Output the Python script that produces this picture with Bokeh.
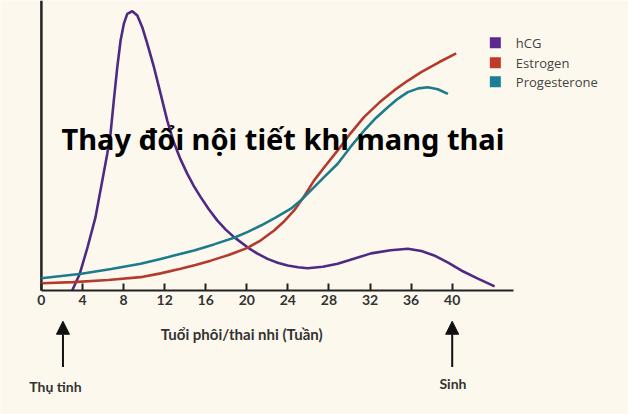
from bokeh.plotting import figure
from bokeh.models import FixedTicker, Arrow, NormalHead, ColumnDataSource
from bokeh.core.properties import value
from bokeh.embed import file_html
from bokeh.resources import INLINE

# ---- data ----
hcg_weeks = [3.0, 3.74, 4.5, 5.27, 6.41, 6.73, 7.05, 7.39, 7.71, 8.03, 8.36, 8.85, 9.34, 9.82,
             10.31, 10.96, 11.61, 12.26, 12.9, 13.55, 14.21, 14.86, 15.51, 16.3, 17.14, 17.95,
             18.76, 20.07, 21.0, 22.02, 23.0, 23.97, 25.0, 25.92, 27.4, 28.85, 30.5, 32.1,
             34.0, 35.68, 37.0, 38.24, 39.6, 40.88, 42.5, 44.13]
hcg = [0.0, 5.8, 15.0, 25.3, 47.1, 54.0, 65.5, 77.0, 86.2, 92.0, 95.4, 96.3, 94.8, 90.8,
       85.1, 77.0, 67.8, 58.5, 51.0, 45.2, 40.2, 35.9, 32.2, 28.0, 24.1, 21.0,
       18.4, 14.9, 12.8, 10.9, 9.6, 8.6, 8.0, 7.7, 8.2, 9.2, 11.0, 12.8,
       13.9, 14.4, 13.6, 12.1, 9.6, 6.9, 4.1, 1.4]

estrogen_weeks = [0.0, 3.1, 6.5, 9.66, 11.6, 13.56, 15.0, 16.49, 18.3, 20.07, 21.4, 22.66,
                  23.65, 24.61, 25.6, 26.54, 27.7, 28.85, 30.1, 31.41, 32.9, 34.34, 35.7,
                  36.98, 38.7, 40.39]
estrogen = [2.5, 2.9, 3.6, 4.6, 5.9, 7.5, 8.8, 10.3, 12.3, 14.7, 17.4, 20.7,
            23.9, 27.6, 32.6, 37.9, 43.2, 48.3, 54.2, 59.8, 64.8, 69.0, 72.4,
            75.3, 78.7, 81.8]

progesterone_weeks = [0.0, 3.9, 6.8, 9.66, 11.61, 13.2, 14.86, 16.8, 18.76, 20.1, 21.37,
                      22.8, 24.29, 25.3, 26.24, 27.5, 28.85, 30.1, 31.44, 32.6, 33.73,
                      34.7, 35.68, 36.7, 37.63, 38.6, 39.58]
progesterone = [4.2, 5.8, 7.4, 9.2, 10.9, 12.3, 13.8, 15.9, 18.2, 20.2, 22.4,
                25.1, 28.2, 31.2, 34.5, 39.0, 43.7, 49.5, 55.2, 59.6, 63.2,
                66.1, 68.4, 69.7, 70.1, 69.4, 67.8]

x_ticks = [0, 4, 8, 12, 16, 20, 24, 28, 32, 36, 40]
legend_names = ["hCG", "Estrogen", "Progesterone"]
legend_colors = ["#5b2a90", "#c0392b", "#1a7f95"]
line_colors = ["#4e2a84", "#b53a2e", "#1e7b8c"]

title_text = "Thay đổi nội tiết khi mang thai"
x_label = "Tuổi phôi/thai nhi (Tuần)"
event_names = ["Thụ tinh", "Sinh"]
event_weeks = [2.1, 40.0]

BG = "#fdf8ed"
W, H = 628, 414
PX_PER_WEEK = 10.27
X0 = 40.9      # canvas x of week 0
Y0 = 290.0     # canvas y of value 0
PX_PER_UNIT = 2.9

p = figure(frame_width=W, frame_height=H,
           x_range=(-X0 / PX_PER_WEEK, (W - X0) / PX_PER_WEEK),
           y_range=(-(H - Y0) / PX_PER_UNIT, Y0 / PX_PER_UNIT),
           output_backend="svg", toolbar_location=None, y_axis_location=None,
           min_border=0)
p.background_fill_color = BG
p.border_fill_color = BG
p.outline_line_color = None
p.grid.visible = False

ax = p.xaxis[0]
ax.fixed_location = 0
ax.ticker = FixedTicker(ticks=x_ticks)
ax.bounds = (0, 46)
ax.axis_line_color = "#222222"
ax.axis_line_width = 2
ax.major_tick_line_color = "#222222"
ax.major_tick_line_width = 2
ax.major_tick_in = 7
ax.major_tick_out = 0
ax.minor_tick_line_color = None
ax.major_label_text_font = "Lato"
ax.major_label_text_font_style = "bold"
ax.major_label_text_font_size = "14px"
ax.major_label_text_color = "#333333"
ax.major_label_standoff = 4

# y axis line
p.segment(x0=[0], y0=[0], x1=[0], y1=[Y0 / PX_PER_UNIT], line_color="#222222", line_width=2.5)

# curves
p.line(hcg_weeks, hcg, line_color=line_colors[0], line_width=2.6)
p.line(estrogen_weeks, estrogen, line_color=line_colors[1], line_width=2.6)
p.line(progesterone_weeks, progesterone, line_color=line_colors[2], line_width=2.6)

# legend (manual, squares + text)
leg_y = [85.4, 78.5, 72.0]
leg = ColumnDataSource(dict(x=[44.2] * 3, tx=[46.2] * 3, y=leg_y, name=legend_names, color=legend_colors))
p.rect(x="x", y="y", width=11, height=11, width_units="screen", height_units="screen",
       fill_color="color", line_color=None, source=leg)
p.text(x="tx", y="y", text="name", source=leg, text_font=value("Open Sans"),
       text_font_size="13px", text_color="#444444", text_baseline="middle", text_align="left")

# title
p.text(x=[23.52], y=[52.3], text=[title_text], text_font=value("Noto Sans"), text_font_style="bold",
       text_font_size="29px", text_color="#000000", text_align="center", text_baseline="alphabetic")

# x label
p.text(x=[19.5], y=[-14.9], text=[x_label], text_font=value("Lato"), text_font_style="bold",
       text_font_size="15px", text_color="#333333", text_align="center", text_baseline="alphabetic")

# arrows and events
for wk in event_weeks:
    p.add_layout(Arrow(x_start=wk, y_start=-26.4, x_end=wk, y_end=-10.6, line_color="#111111",
                       line_width=2, end=NormalHead(size=13, fill_color="#111111", line_color="#111111")))
ev = ColumnDataSource(dict(x=[1.37, 40.07], y=[-33.1, -32.2], name=event_names))
p.text(x="x", y="y", text="name", source=ev, text_font=value("Lato"), text_font_style="bold",
       text_font_size="14px", text_color="#333333", text_align="center", text_baseline="alphabetic")

html = file_html(p, INLINE)
html = html.replace("<body>", '<body style="background-color:%s;">' % BG, 1)
open("out.html", "w").write(html)
